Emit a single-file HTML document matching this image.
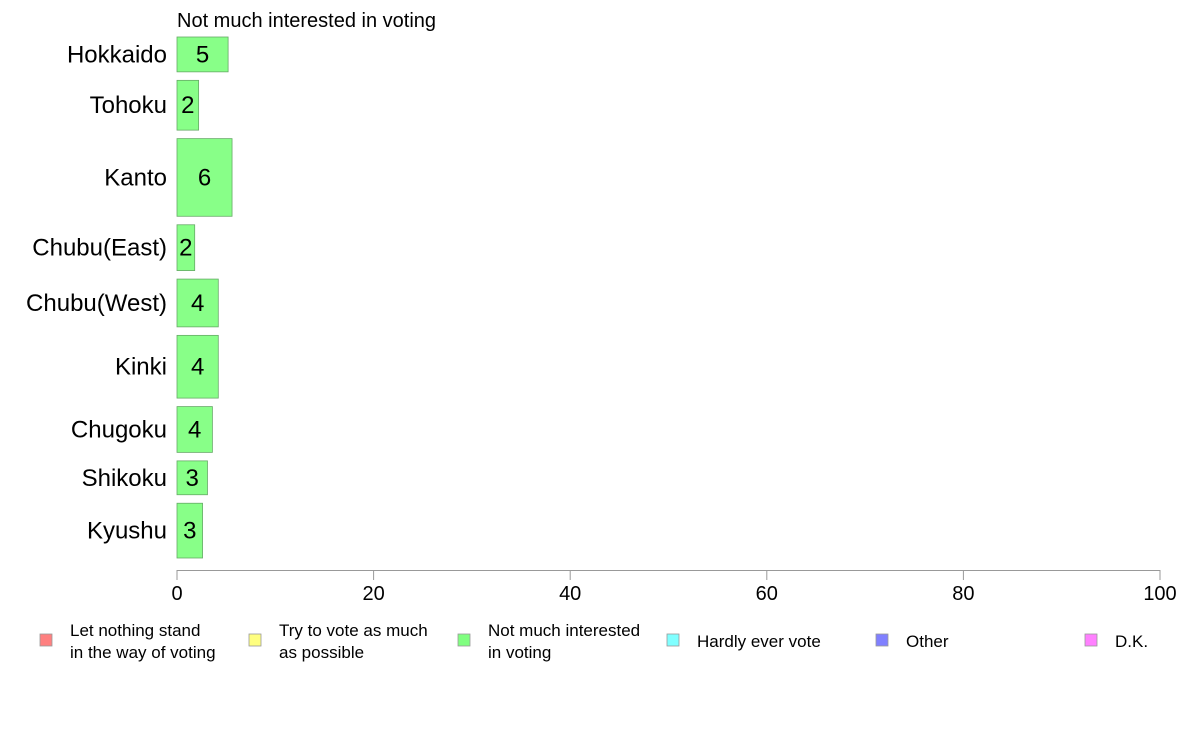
<!DOCTYPE html>
<html><head><meta charset="utf-8"><style>
body{margin:0;background:#fff;font-family:"Liberation Sans",sans-serif}
svg text{font-family:"Liberation Sans",sans-serif}
</style></head><body>
<svg width="1188" height="736">
<text x="177" y="27" font-size="20">Not much interested in voting</text>
<g id="bars"></g>
<g id="axis"></g>
<g id="legend"></g>
</svg>
<script>
const categories=["Hokkaido","Tohoku","Kanto","Chubu(East)","Chubu(West)","Kinki","Chugoku","Shikoku","Kyushu"];
const values=[5.2,2.2,5.6,1.8,4.2,4.2,3.6,3.1,2.6];
const labels=["5","2","6","2","4","4","4","3","3"];
const sampleSizes=[35,50,78,46,48,63,46,34,55];
const ticks=[0,20,40,60,80,100];
const legendItems=["Let nothing stand|in the way of voting","Try to vote as much|as possible","Not much interested|in voting","Hardly ever vote","Other","D.K."];
const legendColors=["#ff8080","#ffff80","#80ff80","#80ffff","#8080ff","#ff80ff"];
const NS="http://www.w3.org/2000/svg";
const x0=177,x1=1160,plotTop=37,plotBottom=558,gap=8.5;
const xs=v=>x0+(x1-x0)*v/100;
const totalH=plotBottom-plotTop-gap*(categories.length-1);
const sumS=sampleSizes.reduce((a,b)=>a+b,0);
function mk(t,a,p){const e=document.createElementNS(NS,t);for(const k in a)e.setAttribute(k,a[k]);p.appendChild(e);return e;}
const gb=document.getElementById('bars');
let yy=plotTop;
categories.forEach((c,i)=>{
 const h=totalH*sampleSizes[i]/sumS;
 const r=mk('rect',{x:x0,y:yy,width:xs(values[i])-x0,height:h,fill:'#88ff88',stroke:'#66aa66','stroke-width':0.8},gb);
 
 
 const t=mk('text',{x:(x0+xs(values[i]))/2,y:yy+h/2+8,'font-size':24,'text-anchor':'middle'},gb);t.textContent=labels[i];
 
 
 const l=mk('text',{x:167,y:yy+h/2+8,'font-size':24,'text-anchor':'end'},gb);l.textContent=c;
 
 
 yy+=h+gap;
});
const ga=document.getElementById('axis');
const al=mk('line',{x1:x0,x2:x1,y1:570.5,y2:570.5,stroke:'#999','stroke-width':1},ga);


ticks.forEach(v=>{
 const tk=mk('line',{x1:xs(v),x2:xs(v),y1:570,y2:580,stroke:'#999'},ga);
 
 
 const t=mk('text',{x:xs(v),y:600,'font-size':20,'text-anchor':'middle'},ga);t.textContent=v;
 
 
});
const gl=document.getElementById('legend');
const lx=[40,249,458,667,876,1085];
legendItems.forEach((s,i)=>{
 const r=mk('rect',{x:lx[i],y:634,width:12,height:12,fill:legendColors[i],stroke:'#999','stroke-width':0.8},gl);
 
 
 const parts=s.split('|');
 const t=mk('text',{x:lx[i]+30,'font-size':17},gl);
 
 
 if(parts.length===1){t.setAttribute('y',647);t.textContent=parts[0];}
 else parts.forEach((p,j)=>{const ts=mk('tspan',{x:lx[i]+30,y:636+j*22},t);ts.textContent=p;});
});
</script>
</body></html>
